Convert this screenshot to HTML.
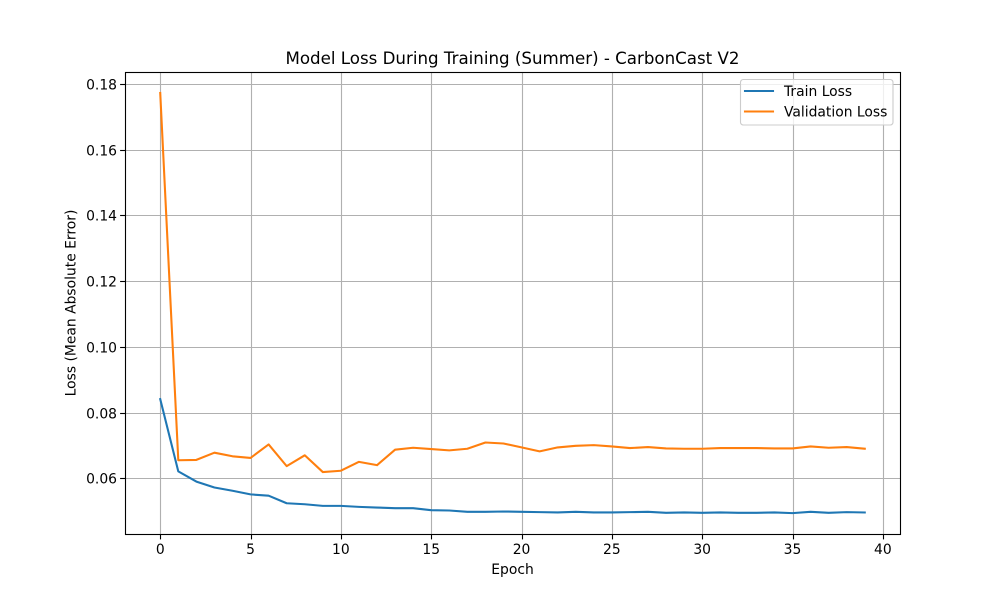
<!DOCTYPE html>
<html lang="en">
<head>
<meta charset="utf-8">
<title>Model Loss During Training (Summer) - CarbonCast V2</title>
<style>
  html, body { margin: 0; padding: 0; background: #fff; }
  svg { display: block; }
  text { font-family: "DejaVu Sans", "Liberation Sans", sans-serif; fill: #000; }
</style>
</head>
<body>
<svg id="chart" xmlns="http://www.w3.org/2000/svg" width="1000" height="600" viewBox="0 0 1000 600">
  <rect x="0" y="0" width="1000" height="600" fill="#ffffff"/>
  <g id="grid"></g>
  <g id="series"></g>
  <rect x="125.5" y="72.5" width="775" height="462" fill="none" stroke="#000" stroke-width="1.11"/>
  <g id="ticks"></g>
  <text x="512.5" y="64" font-size="16.67" text-anchor="middle">Model Loss During Training (Summer) - CarbonCast V2</text>
  <text x="512.5" y="574" font-size="13.89" text-anchor="middle">Epoch</text>
  <text transform="translate(75.5 303) rotate(-90)" font-size="13.89" text-anchor="middle">Loss (Mean Absolute Error)</text>
  <g>
    <rect x="740.5" y="79.5" width="152.5" height="45.5" rx="2.8" ry="2.8" fill="#ffffff" fill-opacity="0.8" stroke="#cccccc" stroke-width="1.11"/>
    <line x1="745" y1="91" x2="773" y2="91" stroke="#1f77b4" stroke-width="2.08" stroke-linecap="square"/>
    <text x="784" y="96" font-size="13.89">Train Loss</text>
    <line x1="745" y1="111.5" x2="773" y2="111.5" stroke="#ff7f0e" stroke-width="2.08" stroke-linecap="square"/>
    <text x="784" y="116.5" font-size="13.89">Validation Loss</text>
  </g>
</svg>
<script>
const xTickValues = [0, 5, 10, 15, 20, 25, 30, 35, 40];
const yTickValues = [0.06, 0.08, 0.10, 0.12, 0.14, 0.16, 0.18];
const yTickLabels = ["0.06", "0.08", "0.10", "0.12", "0.14", "0.16", "0.18"];
const trainLoss = [0.0841, 0.0621, 0.0590, 0.0572, 0.0562, 0.0551, 0.0547, 0.0524, 0.0521, 0.0516,
  0.0516, 0.0513, 0.0511, 0.0509, 0.0509, 0.0503, 0.0502, 0.0498, 0.0498, 0.0499,
  0.0498, 0.0497, 0.0496, 0.0498, 0.0496, 0.0496, 0.0497, 0.0498, 0.0495, 0.0496,
  0.0495, 0.0496, 0.0495, 0.0495, 0.0496, 0.0494, 0.0498, 0.0495, 0.0497, 0.0496];
const validationLoss = [0.1773, 0.0655, 0.0656, 0.0678, 0.0667, 0.0662, 0.0703, 0.0637, 0.0670, 0.0619,
  0.0623, 0.0650, 0.0640, 0.0687, 0.0693, 0.0689, 0.0685, 0.0690, 0.0709, 0.0706,
  0.0694, 0.0682, 0.0694, 0.0699, 0.0701, 0.0697, 0.0692, 0.0695, 0.0691, 0.0690,
  0.0690, 0.0692, 0.0692, 0.0692, 0.0691, 0.0691, 0.0697, 0.0693, 0.0695, 0.0690];

const NS = "http://www.w3.org/2000/svg";
const plot = { left: 125, right: 900, top: 72, bottom: 534 };

// Axis limits as drawn in the reference.
const xMin = -1.95;
const xMax = 40.95;
const yMin = 0.043044;
const yMax = 0.183683;
function xScale(v) { return plot.left + (v - xMin) / (xMax - xMin) * (plot.right - plot.left); }
function yScale(v) { return plot.bottom - (v - yMin) / (yMax - yMin) * (plot.bottom - plot.top); }
function snap(p) { return Math.floor(p + 0.5) + 0.5; }

const gridG = document.getElementById("grid");
const ticksG = document.getElementById("ticks");
const seriesG = document.getElementById("series");

function makeLine(parent, x1, y1, x2, y2, stroke, width) {
  const l = document.createElementNS(NS, "line");
  l.setAttribute("x1", x1);
  l.setAttribute("y1", y1);
  l.setAttribute("x2", x2);
  l.setAttribute("y2", y2);
  l.setAttribute("stroke", stroke);
  l.setAttribute("stroke-width", width);
  parent.appendChild(l);
  return l;
}

function makeText(parent, x, y, anchor, content) {
  const t = document.createElementNS(NS, "text");
  t.setAttribute("x", x);
  t.setAttribute("y", y);
  t.setAttribute("font-size", "13.89");
  t.setAttribute("text-anchor", anchor);
  t.textContent = content;
  parent.appendChild(t);
  return t;
}

xTickValues.forEach(function (v) {
  const px = snap(xScale(v));
  const g = makeLine(gridG, px, plot.top, px, plot.bottom, "#b0b0b0", 1.11);
  
  
  const m = makeLine(ticksG, px, plot.bottom, px, plot.bottom + 5.4, "#000", 1.11);
  
  
  const t = makeText(ticksG, xScale(v), plot.bottom + 20, "middle", String(v));
  
  
});

yTickValues.forEach(function (v, i) {
  const py = snap(yScale(v));
  const g = makeLine(gridG, plot.left, py, plot.right, py, "#b0b0b0", 1.11);
  
  
  const m = makeLine(ticksG, plot.left - 4.9, py, plot.left, py, "#000", 1.11);
  
  
  const t = makeText(ticksG, plot.left - 8, py + 5, "end", yTickLabels[i]);
  
  
});

function pointsFor(values) {
  return values.map(function (v, i) {
    return xScale(i).toFixed(2) + "," + yScale(v).toFixed(2);
  }).join(" ");
}

const trainPath = document.createElementNS(NS, "polyline");
trainPath.setAttribute("points", pointsFor(trainLoss));
trainPath.setAttribute("fill", "none");
trainPath.setAttribute("stroke", "#1f77b4");
trainPath.setAttribute("stroke-width", "2.08");
trainPath.setAttribute("stroke-linejoin", "round");
trainPath.setAttribute("stroke-linecap", "square");


seriesG.appendChild(trainPath);

const validationPath = document.createElementNS(NS, "polyline");
validationPath.setAttribute("points", pointsFor(validationLoss));
validationPath.setAttribute("fill", "none");
validationPath.setAttribute("stroke", "#ff7f0e");
validationPath.setAttribute("stroke-width", "2.08");
validationPath.setAttribute("stroke-linejoin", "round");
validationPath.setAttribute("stroke-linecap", "square");


seriesG.appendChild(validationPath);
</script>
</body>
</html>
